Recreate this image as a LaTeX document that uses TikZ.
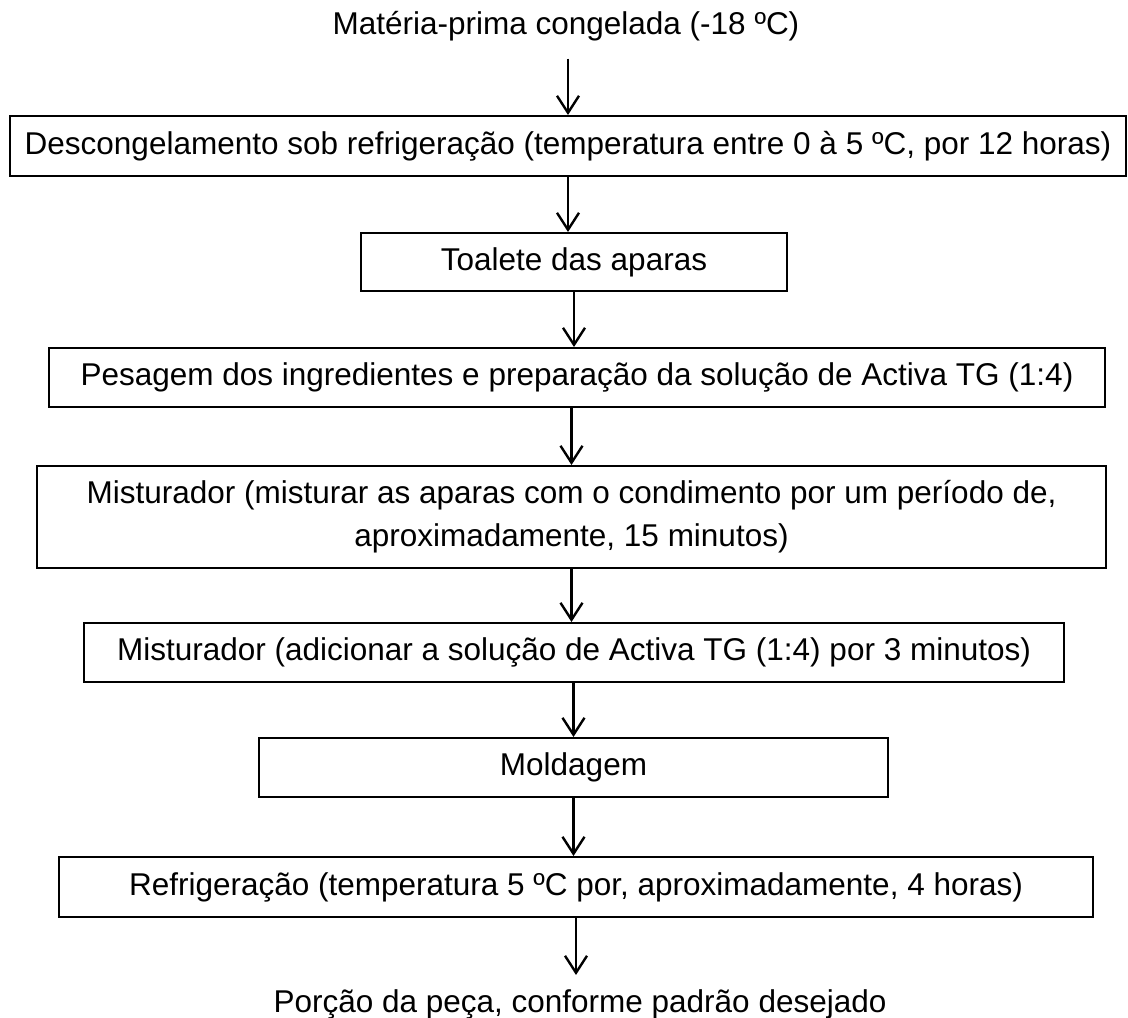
\documentclass[tikz,border=0pt]{standalone}
\usepackage{fontspec}
\setmainfont{Liberation Sans}
\usetikzlibrary{arrows.meta}

\begin{document}
\begin{tikzpicture}[x = 1pt, y = -1pt, > = {Straight Barb[length = 17pt, width = 22pt]},
	box/.style = {draw, line width = 2pt, inner sep = 0pt, align = center,
		font = \fontsize{31.5}{43}\selectfont},
	label/.style = {inner sep = 0pt, font = \fontsize{31.5}{43}\selectfont},
	flow/.style = {->, line width = 2.4pt}]

\useasboundingbox (0, 0) rectangle (1128, 1018);

	% Start and end
	
	\node [label, anchor = base] (raw) at (566, 34) {Matéria-prima congelada (-18 ºC)};
	\node [label, anchor = base] (portion) at (580, 1012) {Porção da peça, conforme padrão desejado};
	
	% Steps
	
	\node [box, minimum width = 1116pt, minimum height = 60pt] (thaw) at (568, 146)
		{Descongelamento sob refrigeração (temperatura entre 0 à 5 ºC, por 12 horas)};
	\node [box, minimum width = 426pt, minimum height = 58pt] (trim) at (574, 262)
		{Toalete das aparas};
	\node [box, minimum width = 1056pt, minimum height = 59pt] (weigh) at (577, 377.5)
		{Pesagem dos ingredientes e preparação da solução de Activa TG (1:4)};
	\node [box, minimum width = 1069pt, minimum height = 102pt] (mixA) at (571.5, 517)
		{Misturador (misturar as aparas com o condimento por um período de,\\ aproximadamente, 15 minutos)};
	\node [box, minimum width = 980pt, minimum height = 59pt] (mixB) at (574, 652.5)
		{Misturador (adicionar a solução de Activa TG (1:4) por 3 minutos)};
	\node [box, minimum width = 629pt, minimum height = 59pt] (mould) at (573.5, 767.5)
		{Moldagem};
	\node [box, minimum width = 1034pt, minimum height = 60pt] (chill) at (576, 887)
		{Refrigeração (temperatura 5 ºC por, aproximadamente, 4 horas)};
	
	% Arrows
	
	\draw [flow, shorten < = 18pt] (raw.south -| thaw.north) -- (thaw.north);
	\draw [flow] (thaw.south) -- (thaw.south |- trim.north);
	\draw [flow] (trim.south) -- (trim.south |- weigh.north);
	\draw [flow] (mixA.north |- weigh.south) -- (mixA.north);
	\draw [flow] (mixA.south) -- (mixA.south |- mixB.north);
	\draw [flow] (mould.north |- mixB.south) -- (mould.north);
	\draw [flow] (mould.south) -- (mould.south |- chill.north);
	\draw [flow, shorten > = 14pt] (chill.south) -- (chill.south |- portion.north);

\end{tikzpicture}
\end{document}
